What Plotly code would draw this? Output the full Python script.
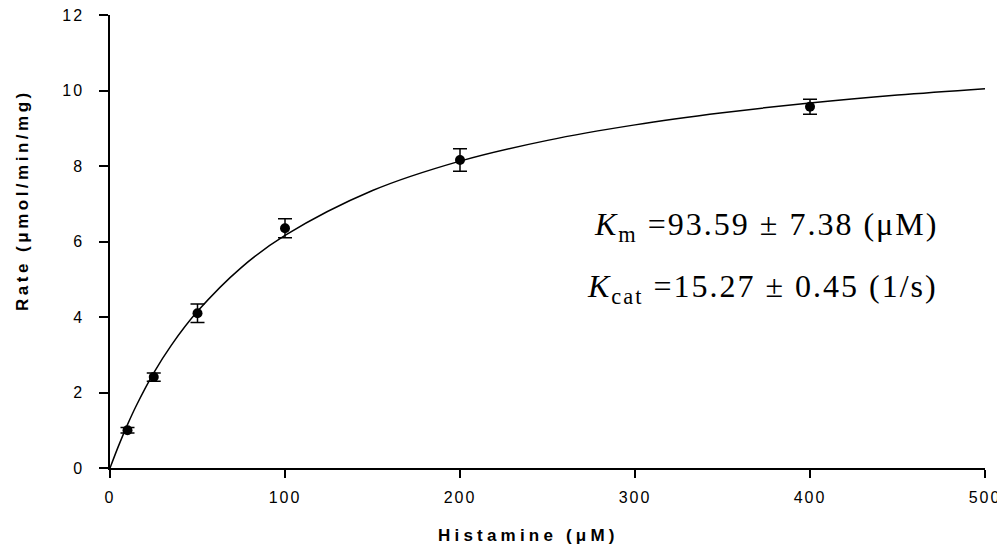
import plotly.graph_objects as go

# Measured data
substrate = [10, 25, 50, 100, 200, 400]
rate = [1.00, 2.41, 4.10, 6.35, 8.16, 9.57]
rate_err = [0.07, 0.11, 0.245, 0.25, 0.30, 0.20]

# Fitted curve
curve_x = [0, 5, 10, 15, 25, 35, 50, 75, 100, 150, 200, 250, 300, 350, 400, 450, 500]
curve_y = [0, 0.60, 1.15, 1.65, 2.52, 3.25, 4.15, 5.31, 6.16, 7.35, 8.13, 8.68, 9.09, 9.41, 9.67, 9.88, 10.05]

x_ticks = [0, 100, 200, 300, 400, 500]
y_ticks = [0, 2, 4, 6, 8, 10, 12]

# page body margin offset (8 px) is accounted for by shrinking the figure
OFF = 8
W, H = 1005 - OFF, 550 - OFF
# plot area in screen pixels: x 110..985, y 15..468
L, T = 110 - OFF, 15 - OFF
R = W - (985 - OFF)
B = H - (468 - OFF)
PW, PH = W - L - R, H - T - B


def px_x(p):
    return (p - OFF - L) / PW


def px_y(p):
    return (H - B - (p - OFF)) / PH


def spaced(s, sp):
    return f'<span style="letter-spacing:{sp}px">{s}</span>'


fig = go.Figure()
fig.add_trace(go.Scatter(
    x=curve_x, y=curve_y, mode="lines",
    line=dict(color="black", width=1.5, shape="spline"),
    showlegend=False, hoverinfo="skip"))
fig.add_trace(go.Scatter(
    x=substrate, y=rate, mode="markers",
    marker=dict(color="black", size=10, symbol="circle"),
    error_y=dict(type="data", array=rate_err, visible=True,
                 color="black", thickness=1.5, width=7),
    showlegend=False))

serif = "Liberation Serif, Times New Roman, serif"
fig.add_annotation(x=px_x(940), y=px_y(226), xref="paper", yref="paper",
                   text=spaced("<i>K</i><sub>m</sub> =93.59 ± 7.38 (μM)", 2),
                   showarrow=False, xanchor="right", yanchor="middle",
                   font=dict(family=serif, size=32, color="black"))
fig.add_annotation(x=px_x(940), y=px_y(288), xref="paper", yref="paper",
                   text=spaced("<i>K</i><sub>cat</sub> =15.27 ± 0.45 (1/s)", 2),
                   showarrow=False, xanchor="right", yanchor="middle",
                   font=dict(family=serif, size=32, color="black"))

# Axis titles
fig.add_annotation(x=px_x(22), y=px_y(200), xref="paper", yref="paper",
                   text="<b>" + spaced("Rate (μmol/min/mg)", 3.5) + "</b>",
                   textangle=-90, showarrow=False, xanchor="center", yanchor="middle",
                   font=dict(size=17, color="black"))
fig.add_annotation(x=px_x(528), y=px_y(535), xref="paper", yref="paper",
                   text="<b>" + spaced("Histamine (μM)", 4.2) + "</b>",
                   showarrow=False, xanchor="center", yanchor="middle",
                   font=dict(size=17, color="black"))

fig.update_layout(
    width=W, height=H,
    margin=dict(l=L, r=R, t=T, b=B),
    plot_bgcolor="white", paper_bgcolor="white",
    font=dict(family="Liberation Sans, Arial, sans-serif", color="black", size=16),
)
fig.update_xaxes(
    range=[0, 500], tickvals=x_ticks, ticktext=[spaced(str(v), 2) for v in x_ticks],
    showline=True, linecolor="black", linewidth=1.5,
    ticks="outside", ticklen=8, tickwidth=1.5, tickcolor="black",
    showgrid=False, zeroline=False, automargin=False,
    tickfont=dict(size=16), ticklabelstandoff=6, ticklabeloverflow="allow",
)
fig.update_yaxes(
    range=[0, 12.001], tickvals=y_ticks, ticktext=[spaced(str(v), 2) for v in y_ticks],
    showline=True, linecolor="black", linewidth=1.5,
    ticks="outside", ticklen=9, tickwidth=1.5, tickcolor="black",
    showgrid=False, zeroline=False, automargin=False,
    tickfont=dict(size=16), ticklabelstandoff=12, ticklabeloverflow="allow",
)

fig.write_html("out.html")
